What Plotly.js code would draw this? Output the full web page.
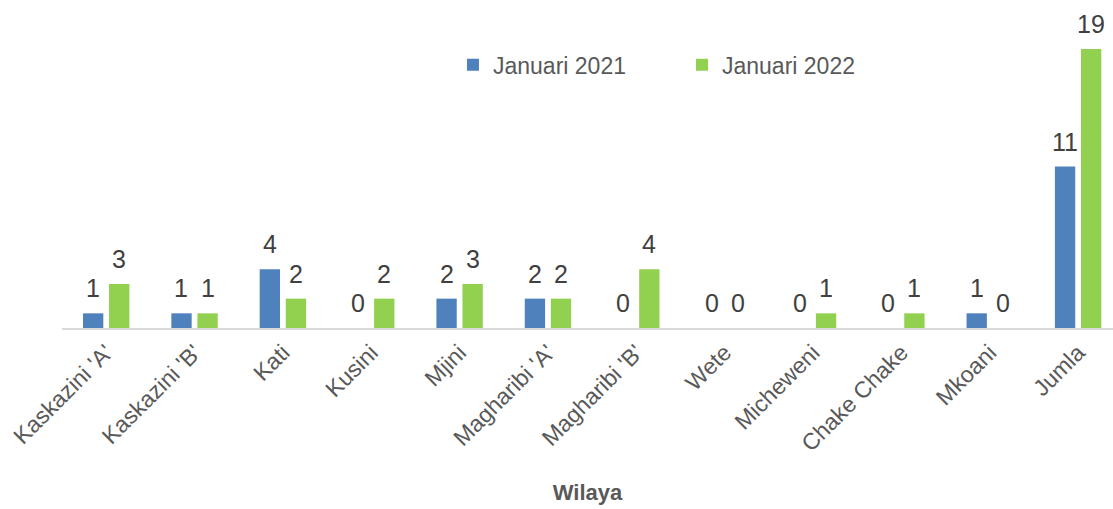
<!DOCTYPE html>
<html>
<head>
<meta charset="utf-8">
<script src="https://cdn.plot.ly/plotly-3.0.1.min.js"></script>
<style>html,body{margin:0;padding:0;background:#fff;}#chart{width:1113px;height:509px;}</style>
</head>
<body>
<div id="chart"></div>
<script>
const categories = ["Kaskazini 'A'", "Kaskazini 'B'", "Kati", "Kusini", "Mjini", "Magharibi 'A'", "Magharibi 'B'", "Wete", "Micheweni", "Chake Chake", "Mkoani", "Jumla"];
const jan2021 = [1, 1, 4, 0, 2, 2, 0, 0, 0, 0, 1, 11];
const jan2022 = [3, 1, 2, 2, 3, 2, 4, 0, 1, 1, 0, 19];
const seriesNames = ["Januari 2021", "Januari 2022"];
const seriesColors = ['#4F81BD', '#92D050'];

const fontFam = "'Liberation Sans', Arial, sans-serif";
const textCol = "#595959";

const W = 1113, H = 509;
const margin = {l: 62, r: 0, t: 30, b: 181};
const xRange = [-0.5, 11.395];
const bargap = 0.41, bargroupgap = 0.22;

const data = [jan2021, jan2022].map((y, i) => ({
  type: 'bar', name: seriesNames[i], x: categories, y: y,
  marker: {color: seriesColors[i]},
  hoverinfo: 'x+y'
}));

// data labels as annotations anchored on the axis scale, offset to each bar of the group
const pxPerCat = (W - margin.l - margin.r) / (xRange[1] - xRange[0]);
const slot = pxPerCat * (1 - bargap) / 2;
const annotations = [];
[jan2021, jan2022].forEach((y, i) => {
  y.forEach((v, k) => {
    annotations.push({
      x: categories[k], y: v, xref: 'x', yref: 'y',
      text: String(v), showarrow: false,
      xanchor: 'center', yanchor: 'bottom',
      xshift: (i === 0 ? -1 : 1) * slot / 2, yshift: 9,
      font: {family: fontFam, size: 25, color: '#404040'}
    });
  });
});

const layout = {
  width: W, height: H,
  margin: margin,
  paper_bgcolor: '#fff', plot_bgcolor: '#fff',
  barmode: 'group', bargap: bargap, bargroupgap: bargroupgap,
  showlegend: true,
  legend: {orientation: 'h', x: 0.372, y: 0.883, xanchor: 'left', yanchor: 'middle',
           font: {family: fontFam, size: 23, color: textCol}, itemwidth: 30, traceorder: 'normal',
           entrywidth: 184, entrywidthmode: 'pixels'},
  xaxis: {range: xRange, tickangle: -45, showline: true, linecolor: '#d9d9d9', linewidth: 2,
          ticks: '', tickfont: {family: fontFam, size: 23, color: textCol},
          title: {text: 'Wilaya', font: {family: fontFam, size: 22, color: textCol, weight: 'bold'}, standoff: 29}},
  yaxis: {range: [0, 20.3], visible: false, showgrid: false, zeroline: false},
  annotations: annotations,
  font: {family: fontFam}
};

Plotly.newPlot('chart', data, layout, {displayModeBar: false, staticPlot: true});
</script>
</body>
</html>
